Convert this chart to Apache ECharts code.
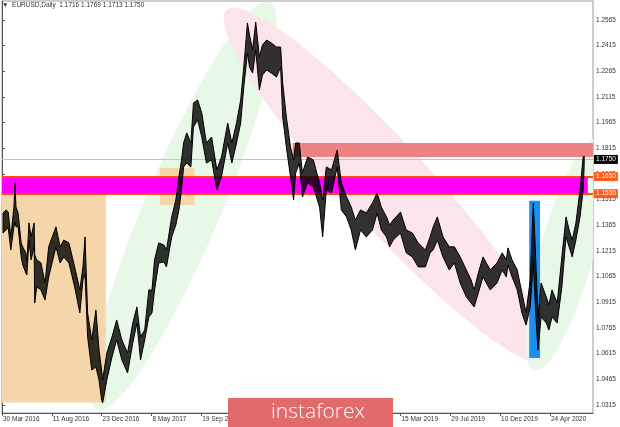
<!DOCTYPE html>
<html><head><meta charset="utf-8">
<script src="https://cdn.jsdelivr.net/npm/echarts@6/dist/echarts.min.js"></script>
<style>html,body{margin:0;padding:0;background:#fff}#c{width:620px;height:427px}</style>
</head><body><div id="c"></div>
<script>
// ---- tick labels ----
const dateLabels = ['30 Mar 2016','11 Aug 2016','23 Dec 2016','8 May 2017','19 Sep 2017','31 Jan 2018','14 Jun 2018','26 Oct 2018','15 Mar 2019','29 Jul 2019','10 Dec 2019','24 Apr 2020'];
const barsPerLabel = 96;
const priceTicks = [1.0315,1.0465,1.0615,1.0765,1.0915,1.1065,1.1215,1.1365,1.1515,1.1665,1.1815,1.1965,1.2115,1.2265,1.2415,1.2565];

// ---- price envelope (trading-day index, high, low) ----
const barIndex = [2,8,12,17,23,25,27,31,37,40,46,48,52,56,62,63,67,75,83,90,104,112,119,129,140,150,156,160,165,173,181,187,192,194,202,212,221,231,242,252,260,267,275,283,289,294,302,312,317,327,335,341,346,350,356,364,369,377,385,394,404,414,423,435,443,452,460,466,473,477,483,489,496,502,510,519,529,537,541,548,556,562,566,573,579,589,600,612,618,625,635,646,654,664,673,681,691,702,714,723,731,741,747,754,768,779,791,802,816,825,831,839,850,862,872,883,895,904,910,918,927,941,954,964,972,975,983,993,1002,1010,1018,1024,1029,1033,1039,1049,1054,1060,1070,1079,1087,1093,1099,1106,1114,1120,1122];
const highs = [1.1437,1.1455,1.1443,1.1297,1.1472,1.1613,1.1472,1.1437,1.1262,1.1239,1.1204,1.1151,1.1379,1.1297,1.1379,1.1192,1.1163,1.1145,1.1028,1.1239,1.1356,1.1239,1.1279,1.1262,1.1122,1.0987,1.1122,1.1297,1.0853,1.0695,1.0870,1.0637,1.0519,1.0461,1.0619,1.0713,1.0812,1.0695,1.0619,1.0794,1.0888,1.0713,1.0753,1.0987,1.0987,1.1163,1.1262,1.1250,1.1221,1.1414,1.1513,1.1648,1.1747,1.1846,1.1905,1.1846,1.2080,1.2098,1.2022,1.1846,1.1881,1.1689,1.1764,1.1963,1.1846,1.1963,1.2098,1.2290,1.2548,1.2477,1.2390,1.2553,1.2349,1.2419,1.2448,1.2431,1.2407,1.2407,1.2197,1.1998,1.1823,1.1747,1.1846,1.1846,1.1671,1.1764,1.1747,1.1613,1.1513,1.1706,1.1689,1.1805,1.1613,1.1531,1.1472,1.1396,1.1455,1.1437,1.1496,1.1554,1.1472,1.1414,1.1367,1.1396,1.1443,1.1338,1.1320,1.1262,1.1221,1.1297,1.1356,1.1414,1.1297,1.1239,1.1239,1.1180,1.1104,1.1046,1.0987,1.1086,1.1180,1.1104,1.1145,1.1204,1.1163,1.1233,1.1163,1.1104,1.0970,1.0853,1.1046,1.1496,1.1145,1.0829,1.1028,1.0946,1.0900,1.0987,1.0911,1.1180,1.1414,1.1338,1.1279,1.1379,1.1572,1.1764,1.1769];
const lows = [1.1320,1.1338,1.1350,1.1221,1.1356,1.1385,1.1356,1.1356,1.1180,1.1133,1.1086,1.1075,1.1279,1.1163,1.1239,1.0911,1.1005,1.0987,1.0929,1.1063,1.1239,1.1145,1.1180,1.1145,1.1005,1.0853,1.1046,1.1075,1.0713,1.0519,1.0537,1.0461,1.0344,1.0327,1.0461,1.0596,1.0695,1.0578,1.0502,1.0677,1.0794,1.0578,1.0695,1.0829,1.0853,1.0987,1.1145,1.1151,1.1122,1.1297,1.1367,1.1455,1.1572,1.1706,1.1729,1.1706,1.1940,1.1981,1.1881,1.1729,1.1747,1.1572,1.1648,1.1846,1.1729,1.1846,1.1963,1.2174,1.2372,1.2290,1.2255,1.2390,1.2156,1.2244,1.2273,1.2255,1.2232,1.2290,1.1998,1.1823,1.1648,1.1513,1.1671,1.1729,1.1531,1.1613,1.1589,1.1472,1.1297,1.1572,1.1554,1.1706,1.1455,1.1414,1.1338,1.1221,1.1338,1.1297,1.1338,1.1437,1.1338,1.1297,1.1239,1.1279,1.1320,1.1204,1.1180,1.1122,1.1122,1.1204,1.1221,1.1279,1.1180,1.1104,1.1145,1.1028,1.0946,1.0911,1.0888,1.0970,1.1063,1.0987,1.1028,1.1104,1.1063,1.1133,1.1063,1.0987,1.0853,1.0782,1.0888,1.1145,1.0829,1.0637,1.0829,1.0794,1.0753,1.0829,1.0794,1.1005,1.1297,1.1239,1.1180,1.1279,1.1414,1.1572,1.1713];

const lastBar = {open:1.1716, high:1.1769, low:1.1713, close:1.1750};
const supportLevel = 1.1550;
const resistanceLevel = 1.1650;

// ---- drawn objects (in trading-day index / price units) ----
const boxes = [
  {x0:0,    x1:200,  y0:1.0330, y1:1.1650, fill:'#F4D6AA', blend:'multiply'},
  {x0:304,  x1:371,  y0:1.1484, y1:1.1700, fill:'#F4D6AA', blend:'multiply'},
  {x0:0,    x1:1129, y0:supportLevel, y1:resistanceLevel, fill:'#FF00FF', blend:'multiply'},
  {x0:560,  x1:1139, y0:1.1764, y1:1.1846, fill:'#EE8282', blend:'multiply'},
  {x0:1016, x1:1037, y0:1.0590, y1:1.1508, fill:'#1E8FF0', blend:null}
];
const ellipses = [
  {from:[183,1.0286], to:[516,1.2670], half:38, fill:'#E7F8E7'},
  {from:[433,1.2624], to:[1054,1.0567], half:42, fill:'#FCE4EB'},
  {from:[1026,1.0520], to:[1150,1.1880], half:27, fill:'#E7F8E7'}
];

const FONT = 'Liberation Sans';
const chart = echarts.init(document.getElementById('c'), null, {renderer:'canvas'});

function ellipsePts(api, e){
  const p1 = api.coord(e.from), p2 = api.coord(e.to);
  const cx = (p1[0]+p2[0])/2, cy = (p1[1]+p2[1])/2;
  const dx = p2[0]-p1[0], dy = p2[1]-p1[1];
  const a = Math.sqrt(dx*dx+dy*dy)/2, th = Math.atan2(dy,dx);
  const pts = [];
  for (let k=0;k<90;k++){
    const t = k/90*Math.PI*2;
    const ex = a*Math.cos(t), ey = e.half*Math.sin(t);
    pts.push([cx + ex*Math.cos(th) - ey*Math.sin(th), cy + ex*Math.sin(th) + ey*Math.cos(th)]);
  }
  return pts;
}

const annotations = ellipses.map((e,i)=>({kind:'e', i})).concat(boxes.map((b,i)=>({kind:'b', i})));
const lvlLabel = (bg)=>({position:'end', distance:1, formatter:p=>Number(p.value).toFixed(4), backgroundColor:bg, color:'#fff', fontSize:6.5, fontFamily:FONT, padding:[1,2,1,2]});

chart.setOption({
  backgroundColor:'#ffffff',
  animation:false,
  grid:{left:1, right:27, top:1, bottom:14, show:true, borderColor:'#9a9a9a', borderWidth:1, backgroundColor:'transparent'},
  xAxis:{
    type:'value', min:0, max:1139,
    splitLine:{show:false},
    axisLine:{show:true, onZero:false, lineStyle:{color:'#555', width:1}},
    axisTick:{show:true, length:3, lineStyle:{color:'#555'}, customValues: dateLabels.map((_,i)=>i*barsPerLabel)},
    axisLabel:{customValues: dateLabels.map((_,i)=>i*barsPerLabel), formatter:v=>dateLabels[Math.round(v/barsPerLabel)],
      align:'left', margin:3, padding:[0,0,0,1], fontSize:6.5, color:'#333', fontFamily:FONT, hideOverlap:false}
  },
  yAxis:{
    type:'value', position:'right', min:1.0268, max:1.2676,
    splitLine:{show:false},
    axisLine:{show:true, lineStyle:{color:'#555', width:1}},
    axisTick:{show:true, length:3, lineStyle:{color:'#555'}, customValues: priceTicks},
    axisLabel:{customValues: priceTicks, formatter:v=>v.toFixed(4), margin:3, fontSize:6.5, color:'#333', fontFamily:FONT}
  },
  graphic:[
    {type:'text', left:2, top:2, z:50, style:{text:'\u25BC  EURUSD,Daily  '+[lastBar.open,lastBar.high,lastBar.low,lastBar.close].map(v=>v.toFixed(4)).join(' '), fontSize:6.5, fontFamily:FONT, fill:'#333'}},
    {type:'rect', left:228, top:398, z:100, shape:{width:165, height:29}, style:{fill:'#E36A6A'}},
    {type:'text', z:101, x:318, y:412, style:{text:'instaforex', fill:'#fff', font:'300 21px "Open Sans"', align:'center', verticalAlign:'middle'}}
  ],
  series:[
    {
      type:'custom', z:1, silent:true, clip:true,
      data: annotations.map((a,i)=>[i]),
      encode:{x:-1, y:-1},
      renderItem:(params, api)=>{
        const a = annotations[params.dataIndex];
        if (a.kind==='e'){
          const e = ellipses[a.i];
          return {type:'polygon', shape:{points:ellipsePts(api,e)}, style:{fill:e.fill, blend:'multiply'}};
        }
        const b = boxes[a.i];
        const p0 = api.coord([b.x0, b.y1]), p1 = api.coord([b.x1, b.y0]);
        const st = {fill:b.fill};
        if (b.blend) st.blend = b.blend;
        return {type:'rect', shape:{x:p0[0], y:p0[1], width:p1[0]-p0[0], height:p1[1]-p0[1]}, style:st};
      }
    },
    {
      type:'custom', z:5, silent:true, clip:true,
      data: barIndex.map((b,i)=>[b, lows[i], highs[i]]),
      encode:{x:0, y:[1,2]},
      renderItem:(params, api)=>{
        if (params.dataIndex !== 0) return null;
        const up = barIndex.map((b,i)=>api.coord([b, highs[i]]));
        const dn = barIndex.map((b,i)=>api.coord([b, lows[i]]));
        const poly = up.concat(dn.slice().reverse());
        return {type:'group', children:[
          {type:'polygon', shape:{points:poly}, style:{fill:'rgba(0,0,0,0.8)', stroke:'#000', lineWidth:1, lineJoin:'miter', miterLimit:3}}
        ]};
      },
      markLine:{
        silent:true, symbol:['none','none'], animation:false, precision:4,
        data:[
          {yAxis:lastBar.close, lineStyle:{color:'#c4c4c4', width:1, type:'solid'}, label:lvlLabel('#000')},
          {yAxis:resistanceLevel, lineStyle:{color:'#FF4A10', width:2, type:'solid'}, label:lvlLabel('#FF5A1A')},
          {yAxis:supportLevel, lineStyle:{color:'#FF4A10', width:2, type:'solid'}, label:lvlLabel('#FF5A1A')}
        ]
      }
    }
  ]
});
</script></body></html>
